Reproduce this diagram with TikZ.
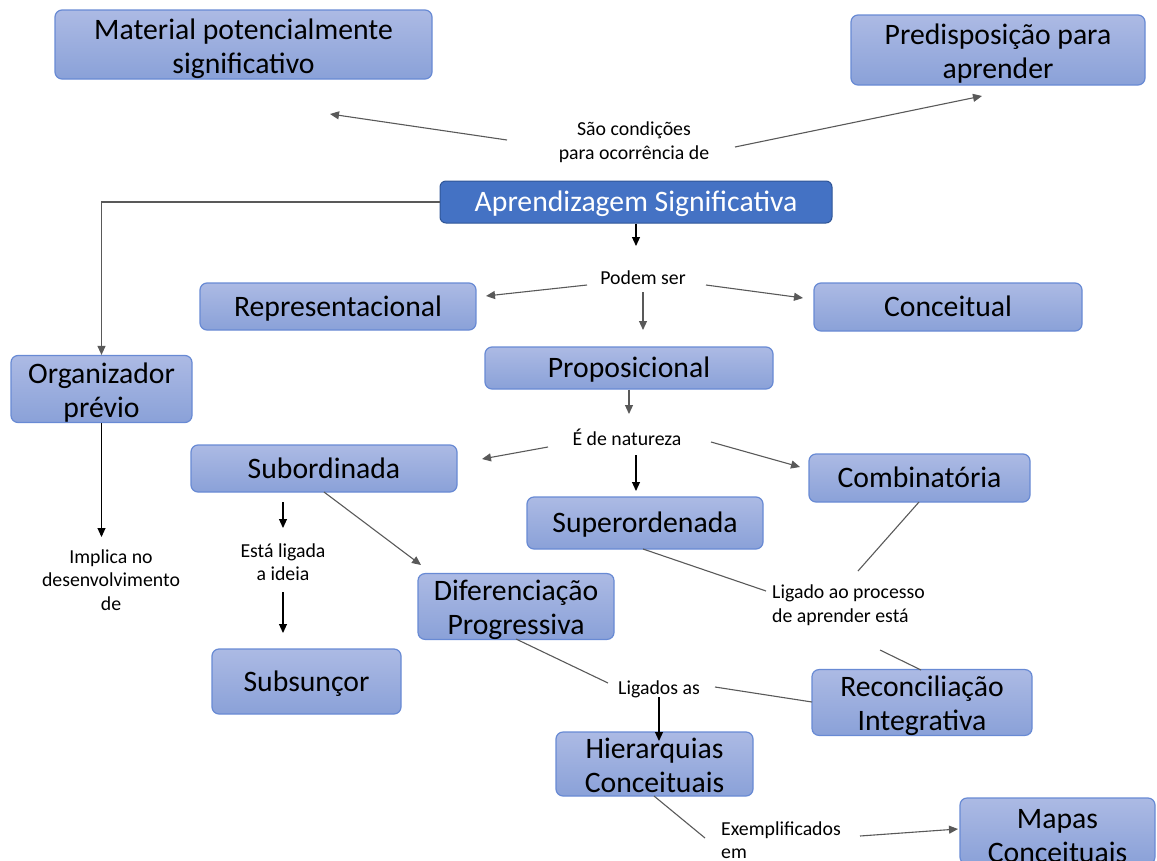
\documentclass[tikz,border=0pt]{standalone}
\usepackage{fontspec}
\setmainfont{Carlito}
\usetikzlibrary{arrows.meta}
\definecolor{boxtop}{RGB}{172,186,228}
\definecolor{boxbot}{RGB}{138,161,216}
\definecolor{boxborder}{RGB}{104,138,212}
\definecolor{mainfill}{RGB}{68,114,196}
\definecolor{mainborder}{RGB}{47,85,151}
\definecolor{linegray}{RGB}{89,89,89}
\newcommand{\boxfont}{\fontsize{29.7}{34}\selectfont}
\newcommand{\labfont}{\fontsize{19.8}{23.5}\selectfont}
\newcommand{\tstrut}[1][1.15em]{\rule[-0.25em]{0pt}{#1}}
\tikzset{
  box/.style={draw=boxborder, line width=1.2pt, rounded corners=7pt, top color=boxtop, bottom color=boxbot, inner sep=0pt, align=center, font=\boxfont, text=black},
  mainbox/.style={draw=mainborder, line width=1pt, fill=mainfill, rounded corners=6pt, inner sep=0pt, align=center, font=\boxfont, text=white},
  lab/.style={font=\labfont, align=center, inner sep=0pt, text=black},
  arr/.style={-{Triangle[length=9pt,width=8pt]}, draw=linegray, line width=1.1pt},
  barr/.style={-{Triangle[length=9pt,width=8pt]}, draw=black, line width=1.1pt},
  ln/.style={draw=linegray, line width=1.1pt}
}
\begin{document}
\begin{tikzpicture}[x=1pt,y=-1pt]
\useasboundingbox (0,0) rectangle (1157,860);
% boxes
\node[box, minimum width=377pt, minimum height=69pt] (mat) at (243.5,44.5) {\tstrut[1.2em]Material potencialmente\\significativo};
\node[box, minimum width=294pt, minimum height=70pt] (pre) at (998,50) {\tstrut[1.2em]Predisposição para\\aprender};
\node[mainbox, minimum width=392pt, minimum height=42pt] (apr) at (636,202) {\tstrut Aprendizagem Significativa};
\node[box, minimum width=276pt, minimum height=47pt] (rep) at (338,306.5) {\tstrut Representacional};
\node[box, minimum width=268pt, minimum height=48pt] (con) at (948,307) {\tstrut Conceitual};
\node[box, minimum width=288pt, minimum height=42pt] (pro) at (629,368) {\tstrut Proposicional};
\node[box, minimum width=181pt, minimum height=64pt] (org) at (101.5,389) {\tstrut[1.2em]Organizador\\prévio};
\node[box, minimum width=266pt, minimum height=47pt] (sub) at (324,468.5) {\tstrut Subordinada};
\node[box, minimum width=221pt, minimum height=48pt] (com) at (919.5,478) {\tstrut Combinatória};
\node[box, minimum width=236pt, minimum height=52pt] (sup) at (645,523) {\tstrut Superordenada};
\node[box, minimum width=196pt, minimum height=65pt] (dif) at (516,606.5) {\tstrut[1.15em]Diferenciação\\Progressiva};
\node[box, minimum width=189pt, minimum height=65pt] (sbs) at (306.5,681.5) {\tstrut Subsunçor};
\node[box, minimum width=220pt, minimum height=65pt] (rec) at (922,702.5) {\tstrut[1.15em]Reconciliação\\Integrativa};
\node[box, minimum width=197pt, minimum height=64pt] (hie) at (654.5,764) {\tstrut[1.05em]Hierarquias\\Conceituais};
\node[box, minimum width=195pt, minimum height=66pt] (map) at (1057.5,831) {\tstrut[1.2em]Mapas\\Conceituais};
% labels
\node[lab] (l1) at (634,142) {São condições\\para ocorrência de};
\node[lab] (l2) at (643,278) {Podem ser};
\node[lab] (l3) at (627,437) {É de natureza};
\node[lab] (l4) at (111,580) {Implica no\\desenvolvimento\\de};
\node[lab] (l5) at (283,562) {Está ligada\\a ideia};
\node[lab, align=left, anchor=west] (l6) at (772,605) {Ligado ao processo\\de aprender está};
\node[lab] (l7) at (659,689) {Ligados as};
\node[lab, align=left, anchor=west] (l8) at (721,840) {Exemplificados\\em};
% free ends
\coordinate (c1a) at (507,140); \coordinate (c1b) at (330,114);
\coordinate (c2a) at (735,147); \coordinate (c2b) at (982,96);
\coordinate (c3) at (636,246);
\coordinate (c4a) at (587,285); \coordinate (c4b) at (486,296);
\coordinate (c5a) at (643,292); \coordinate (c5b) at (643,330);
\coordinate (c6a) at (706,285); \coordinate (c6b) at (803,298);
\coordinate (c7) at (629,414);
\coordinate (c8a) at (548,447); \coordinate (c8b) at (482,459);
\coordinate (c9a) at (636,455); \coordinate (c9b) at (636,491);
\coordinate (c10a) at (711,442); \coordinate (c10b) at (800,467);
\coordinate (c11) at (101.5,537);
\coordinate (c12a) at (283,502); \coordinate (c12b) at (283,528);
\coordinate (c13a) at (283,592); \coordinate (c13b) at (283,633);
\coordinate (c14a) at (324,492); \coordinate (c14b) at (421,565);
\coordinate (c15a) at (643,549); \coordinate (c15b) at (766,591);
\coordinate (c16a) at (919,502); \coordinate (c16b) at (858,571);
\coordinate (c17a) at (880,650); \coordinate (c17b) at (921,670);
\coordinate (c18a) at (516,639); \coordinate (c18b) at (608,683);
\coordinate (c19a) at (715,687); \coordinate (c19b) at (812,702);
\coordinate (c20a) at (659,697); \coordinate (c20b) at (659,741);
\coordinate (c21a) at (654,796); \coordinate (c21b) at (705,838);
\coordinate (c22a) at (860,836); \coordinate (c22b) at (958,829);
% connectors
\draw[arr] (c1a) -- (c1b);
\draw[arr] (c2a) -- (c2b);
\draw[arr] (apr.west) -| (org.north);
\draw[barr] (apr.south) -- (c3);
\draw[arr] (c4a) -- (c4b);
\draw[arr] (c5a) -- (c5b);
\draw[arr] (c6a) -- (c6b);
\draw[arr] (pro.south) -- (c7);
\draw[arr] (c8a) -- (c8b);
\draw[barr] (c9a) -- (c9b);
\draw[arr] (c10a) -- (c10b);
\draw[barr] (org.south) -- (c11);
\draw[barr] (c12a) -- (c12b);
\draw[barr] (c13a) -- (c13b);
\draw[arr] (c14a) -- (c14b);
\draw[ln] (c15a) -- (c15b);
\draw[ln] (c16a) -- (c16b);
\draw[ln] (c17a) -- (c17b);
\draw[ln] (c18a) -- (c18b);
\draw[ln] (c19a) -- (c19b);
\draw[barr] (c20a) -- (c20b);
\draw[ln] (c21a) -- (c21b);
\draw[arr] (c22a) -- (c22b);
\end{tikzpicture}
\end{document}
